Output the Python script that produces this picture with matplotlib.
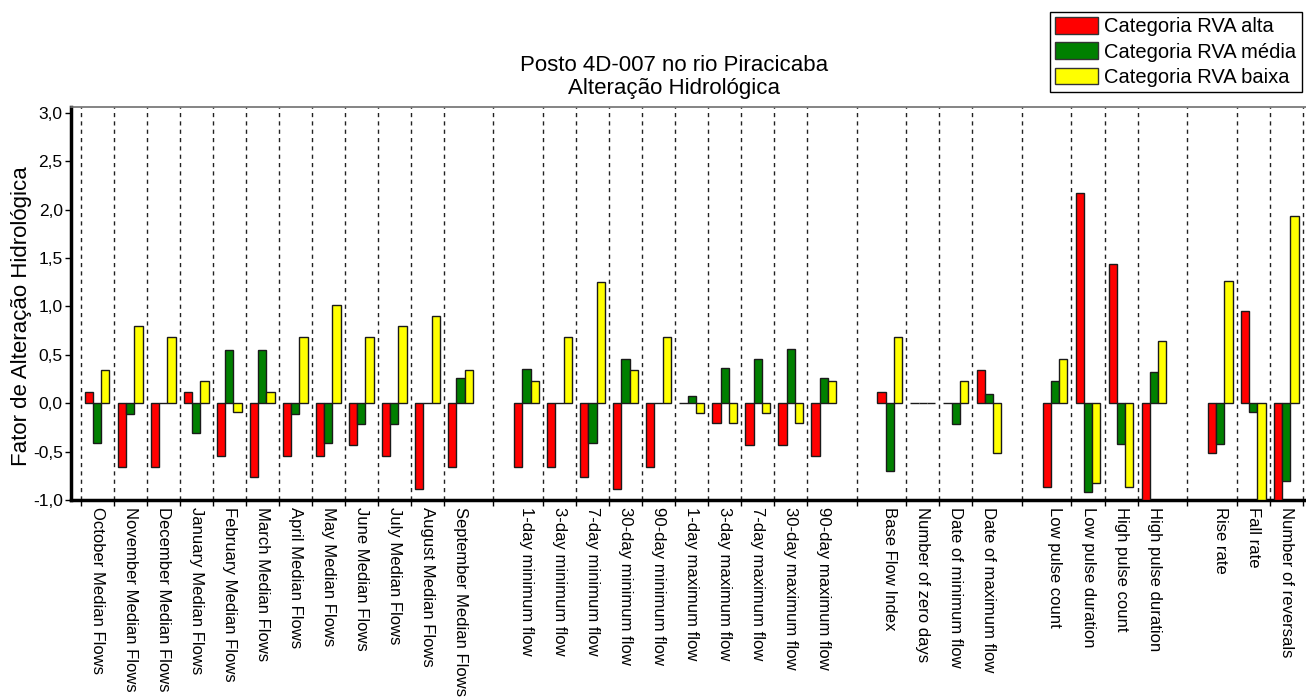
import matplotlib
matplotlib.use("Agg")
import matplotlib.pyplot as plt
from matplotlib.ticker import FuncFormatter, FixedLocator
from matplotlib.patches import Patch

plt.rcParams['font.family'] = ['Liberation Sans', 'DejaVu Sans']

# IHA parameter groups (a blank slot separates consecutive groups)
grupo_mensal = ["October Median Flows", "November Median Flows", "December Median Flows",
                "January Median Flows", "February Median Flows", "March Median Flows",
                "April Median Flows", "May Median Flows", "June Median Flows",
                "July Median Flows", "August Median Flows", "September Median Flows"]
grupo_extremos = ["1-day minimum flow", "3-day minimum flow", "7-day minimum flow",
                  "30-day minimum flow", "90-day minimum flow", "1-day maximum flow",
                  "3-day maximum flow", "7-day maximum flow", "30-day maximum flow",
                  "90-day maximum flow"]
grupo_datas = ["Base Flow Index", "Number of zero days", "Date of minimum flow",
               "Date of maximum flow"]
grupo_pulsos = ["Low pulse count", "Low pulse duration", "High pulse count",
                "High pulse duration"]
grupo_taxas = ["Rise rate", "Fall rate", "Number of reversals"]
grupos = [grupo_mensal, grupo_extremos, grupo_datas, grupo_pulsos, grupo_taxas]

# Hydrologic alteration factor per RVA category
rva_alta = [0.12, -0.655, -0.655, 0.12, -0.545, -0.766, -0.545, -0.545, -0.434, -0.545, -0.886, -0.655,
            -0.655, -0.655, -0.766, -0.886, -0.655, 0.0, -0.207, -0.434, -0.434, -0.545,
            0.12, 0.0, 0.0, 0.345,
            -0.862, 2.172, 1.434, -1.0,
            -0.51, 0.952, -1.0]
rva_media = [-0.41, -0.114, 0.0, -0.31, 0.552, 0.552, -0.114, -0.41, -0.214, -0.214, 0.0, 0.259,
             0.352, 0.0, -0.414, 0.455, 0.0, 0.076, 0.359, 0.455, 0.559, 0.259,
             -0.70, 0.0, -0.214, 0.093,
             0.234, -0.921, -0.424, 0.324,
             -0.424, -0.093, -0.803]
rva_baixa = [0.345, 0.793, 0.683, 0.234, -0.093, 0.12, 0.683, 1.017, 0.683, 0.793, 0.903, 0.345,
             0.234, 0.683, 1.248, 0.345, 0.683, -0.097, -0.207, -0.097, -0.207, 0.234,
             0.683, 0.0, 0.234, -0.51,
             0.455, -0.828, -0.862, 0.641,
             1.259, -1.0, 1.931]

serie_nomes = ["Categoria RVA alta", "Categoria RVA média", "Categoria RVA baixa"]
serie_cores = ["#ff0000", "#008000", "#ffff00"]

# slot positions and separator lines
rotulos, posicoes, separadores = [], [], []
p = 0
for g_i, g in enumerate(grupos):
    for k, nome in enumerate(g):
        rotulos.append(nome)
        posicoes.append(p)
        if k == 0:
            separadores.append(p - 0.5 if g_i == 0 else p - 1)
        else:
            separadores.append(p - 0.5)
        p += 1
    p += 1
separadores.append(posicoes[-1] + 0.5)

fig = plt.figure(figsize=(13.06, 6.97), dpi=100)
ax = fig.add_axes([71 / 1306, 1 - 500 / 697, (1306 - 71) / 1306, (500 - 107) / 697])

largura = 0.25
for j, (vals, cor) in enumerate(zip([rva_alta, rva_media, rva_baixa], serie_cores)):
    xs = [x + (j - 1) * largura for x in posicoes]
    ax.bar(xs, vals, width=largura, color=cor, edgecolor="#1a1a1a", linewidth=1.0, zorder=3)

for s in separadores:
    ax.axvline(s, color="#222222", linestyle=(0, (3, 3)), linewidth=1.0, zorder=1)

ax.set_xlim(-0.79, 36.6)
ax.set_ylim(-1.0, 3.06)

ax.yaxis.set_major_locator(FixedLocator([-1.0, -0.5, 0.0, 0.5, 1.0, 1.5, 2.0, 2.5, 3.0]))
ax.yaxis.set_major_formatter(FuncFormatter(lambda v, _: f"{v:.1f}".replace(".", ",")))
ax.tick_params(axis="y", direction="out", length=4, width=1, labelsize=12.5, pad=2)

ax.set_xticks(separadores)
ax.set_xticklabels([])
ax.set_xticks(posicoes, minor=True)
ax.set_xticklabels(rotulos, minor=True, rotation=270, fontsize=12, va="top", ha="center")
ax.tick_params(axis="x", which="major", direction="out", length=4, width=1)
ax.tick_params(axis="x", which="minor", length=0, pad=5)

ax.spines["left"].set_linewidth(2.5)
ax.spines["bottom"].set_linewidth(2.5)
ax.spines["top"].set_linewidth(1.2)
ax.spines["top"].set_color("#707070")
ax.spines["right"].set_visible(False)

fig.text(674 / 1306, 1 - 55 / 697, "Posto 4D-007 no rio Piracicaba\nAlteração Hidrológica",
         ha="center", va="top", fontsize=16, linespacing=1.1)
fig.text(22 / 1306, 1 - 316 / 697, "Fator de Alteração Hidrológica", rotation=90,
         ha="center", va="center", fontsize=16)

handles = [Patch(facecolor=c, edgecolor="#333333", linewidth=1) for c in serie_cores]
leg = fig.legend(handles, serie_nomes, loc="upper left",
                 bbox_to_anchor=(1050 / 1306, 1 - 12 / 697), fontsize=14.5,
                 frameon=True, fancybox=False, edgecolor="black", framealpha=1,
                 handlelength=2.15, handleheight=0.9, handletextpad=0.3,
                 labelspacing=0.3, borderpad=0.25, borderaxespad=0)
leg.get_frame().set_linewidth(1.0)

fig.savefig("out.png", dpi=100)
